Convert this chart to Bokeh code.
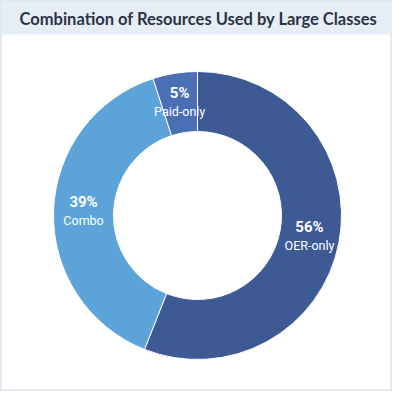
import math
from bokeh.plotting import figure
from bokeh.models import ColumnDataSource, Range1d
from bokeh.core.properties import value
from bokeh.embed import file_html
from bokeh.resources import INLINE

title_text = "Combination of Resources Used by Large Classes"
categories = ["OER-only", "Combo", "Paid-only"]
shares = [56, 39, 5]
colors = ["#3d5a94", "#5ba3d9", "#4b6fb5"]

W, H = 392, 391
p = figure(width=W, height=H, output_backend="svg", toolbar_location=None,
           x_range=Range1d(0, W), y_range=Range1d(0, H), min_border=0)
p.axis.visible = False
p.grid.visible = False
p.outline_line_color = "#dde4ec"
p.outline_line_width = 2
p.background_fill_color = "white"
p.border_fill_color = "white"

# title band
p.quad(left=0, right=W, top=H, bottom=H - 34, fill_color="#e7edf4", line_color=None)
p.text(x=[198], y=[H - 18], text=[title_text], text_font=value("Lato"),
       text_font_style="bold", text_font_size="16.5px", text_color="#2b3446",
       text_align="center", text_baseline="middle")

cx, cy = 197, 176
r_out, r_in = 144, 84
total = sum(shares)
starts, ends, lx, ly, pct = [], [], [], [], []
cum = 0
for s in shares:
    a0 = math.pi / 2 - 2 * math.pi * cum / total
    cum += s
    a1 = math.pi / 2 - 2 * math.pi * cum / total
    starts.append(a0)
    ends.append(a1)
    mid = (a0 + a1) / 2
    rl = (r_out + r_in) / 2
    lx.append(cx + rl * math.cos(mid))
    ly.append(cy + rl * math.sin(mid))
    pct.append(f"{s}%")

src = ColumnDataSource(dict(start=starts, end=ends, color=colors, cat=categories,
                            pct=pct, lx=lx,
                            ly1=[v + 10 for v in ly], ly2=[v - 9 for v in ly]))
p.annular_wedge(x=cx, y=cy, inner_radius=r_in, outer_radius=r_out,
                start_angle="start", end_angle="end", direction="clock",
                fill_color="color", line_color="white", line_width=1, source=src)

p.text(x="lx", y="ly1", text="pct", source=src, text_font=value("Roboto"),
       text_font_style="bold", text_font_size="15px", text_color="white",
       text_align="center", text_baseline="middle")
p.text(x="lx", y="ly2", text="cat", source=src, text_font=value("Roboto"),
       text_font_size="12.5px", text_color="white",
       text_align="center", text_baseline="middle")

open("out.html", "w").write(file_html(p, INLINE))
